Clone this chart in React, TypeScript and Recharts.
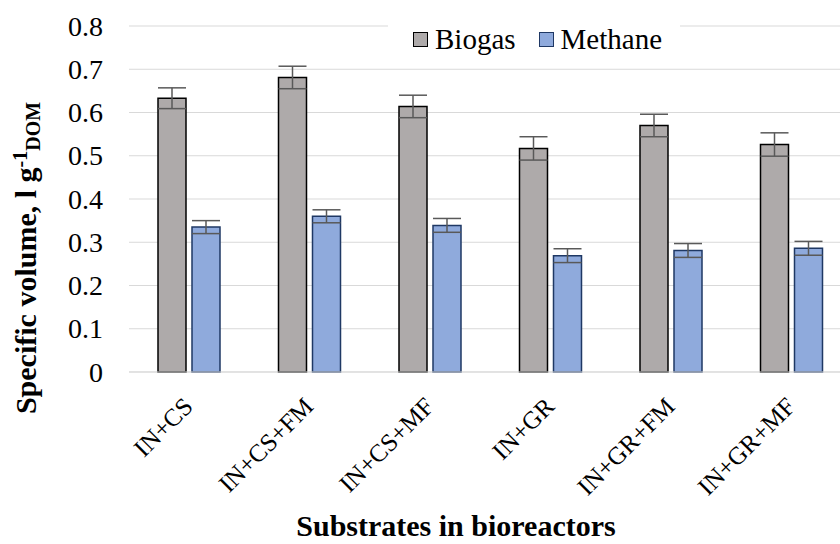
import React from 'react';
import { BarChart, Bar, XAxis, YAxis, CartesianGrid, ErrorBar } from 'recharts';

const categories = ['IN+CS', 'IN+CS+FM', 'IN+CS+MF', 'IN+GR', 'IN+GR+FM', 'IN+GR+MF'];
const biogas = [0.633, 0.681, 0.614, 0.517, 0.57, 0.526];
const biogasErr = [0.024, 0.026, 0.026, 0.027, 0.026, 0.027];
const methane = [0.335, 0.36, 0.339, 0.269, 0.281, 0.286];
const methaneErr = [0.015, 0.015, 0.016, 0.016, 0.016, 0.016];
const yTicks = [0, 0.1, 0.2, 0.3, 0.4, 0.5, 0.6, 0.7, 0.8];
const seriesNames = ['Biogas', 'Methane'];

const data = categories.map((c, i) => ({
  name: c,
  biogas: biogas[i],
  biogasErr: biogasErr[i],
  methane: methane[i],
  methaneErr: methaneErr[i],
}));

const FONT = 'Times New Roman, Liberation Serif, Tinos, serif';

const XTick = (props: any) => {
  const { x, y, payload } = props;
  return (
    <g transform={`translate(${x},${y})`}>
      <text
        x={5}
        y={28}
        textAnchor="end"
        transform="rotate(-45 5 28)"
        fontFamily={FONT}
        fontSize={25}
        fill="#000"
        style={{ fontFamily: FONT }}
      >
        {payload.value}
      </text>
    </g>
  );
};

const YLabel = () => (
  <text
    x={36}
    y={258}
    transform="rotate(-90 36 258)"
    textAnchor="middle"
    fontFamily={FONT}
    fontWeight="bold"
    fontSize={30}
    fill="#000"
    style={{ fontFamily: FONT }}
  >
    Specific volume, l g
    <tspan fontSize={20} dy={-9}>-1</tspan>
    <tspan fontSize={20} dy={13}>DOM</tspan>
  </text>
);

const XLabel = () => (
  <text
    x={456}
    y={536}
    textAnchor="middle"
    fontFamily={FONT}
    fontWeight="bold"
    fontSize={30}
    fill="#000"
    style={{ fontFamily: FONT }}
  >
    Substrates in bioreactors
  </text>
);

const YTick = (props: any) => {
  const { x, y, payload } = props;
  return (
    <text x={x} y={y} dy={9.5} textAnchor="end" fontFamily={FONT} fontSize={28} fill="#000" style={{ fontFamily: FONT }}>
      {payload.value}
    </text>
  );
};

const colors = ['#aeaaaa', '#8faadc'];
const borders = ['#000000', '#1f3864'];

const LegendBox = () => (
  <div
    style={{
      position: 'absolute',
      left: 388,
      top: 15,
      width: 292,
      height: 48,
      background: '#fff',
      display: 'flex',
      alignItems: 'center',
      paddingLeft: 25,
      fontFamily: FONT,
      fontSize: 29,
      color: '#000',
      boxSizing: 'border-box',
    }}
  >
    {seriesNames.map((n, i) => (
      <div key={n} style={{ display: 'flex', alignItems: 'center', marginRight: i === 0 ? 23 : 0 }}>
        <span
          style={{
            display: 'inline-block',
            width: 13,
            height: 13,
            background: colors[i],
            border: `1px solid ${borders[i]}`,
            marginRight: 7,
          }}
        />
        <span>{n}</span>
      </div>
    ))}
  </div>
);

export default function App() {
  return (
    <div style={{ position: 'absolute', left: 0, top: 0, width: 840, height: 544, overflow: 'hidden', background: '#fff', fontFamily: FONT }}>
      <BarChart
        width={860}
        height={544}
        data={data}
        margin={{ top: 26, right: 8, left: 0, bottom: 0 }}
        barSize={28}
        barGap={6}
        style={{ fontFamily: FONT }}
      >
        <CartesianGrid vertical={false} stroke="#d9d9d9" strokeWidth={1} />
        <XAxis
          dataKey="name"
          height={172}
          interval={0}
          tickLine={false}
          axisLine={{ stroke: '#d9d9d9' }}
          tick={<XTick />}
          label={{ content: () => <XLabel /> }}
        />
        <YAxis
          width={129}
          domain={[0, 0.8]}
          ticks={yTicks}
          tickLine={false}
          axisLine={false}
          tickSize={6}
          tickMargin={20}
          tick={<YTick />}
          label={{ content: () => <YLabel /> }}
        />
        <Bar dataKey="biogas" name={seriesNames[0]} fill={colors[0]} stroke={borders[0]} strokeWidth={1.5} isAnimationActive={false}>
          <ErrorBar dataKey="biogasErr" width={14} stroke="#595959" strokeWidth={1.5} isAnimationActive={false} />
        </Bar>
        <Bar dataKey="methane" name={seriesNames[1]} fill={colors[1]} stroke={borders[1]} strokeWidth={1.5} isAnimationActive={false}>
          <ErrorBar dataKey="methaneErr" width={14} stroke="#595959" strokeWidth={1.5} isAnimationActive={false} />
        </Bar>
      </BarChart>
      <LegendBox />
    </div>
  );
}
